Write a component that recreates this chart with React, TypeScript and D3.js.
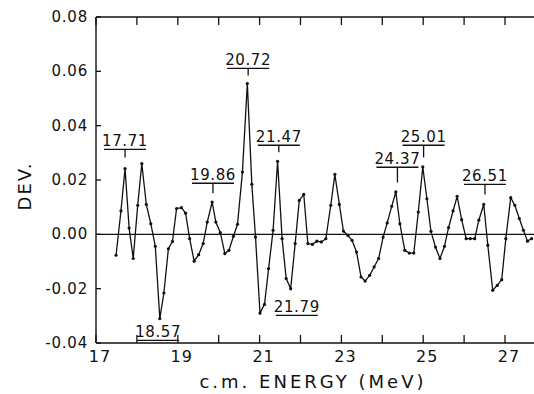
import React from "react";
import * as d3 from "d3";

const energies = [
  17.49, 17.61, 17.71, 17.81, 17.91, 18.02, 18.12, 18.23, 18.34, 18.45,
  18.56, 18.66, 18.77, 18.87, 18.97, 19.09, 19.19, 19.29, 19.40, 19.51,
  19.62, 19.72, 19.84, 19.93, 20.04, 20.15, 20.25, 20.36, 20.46, 20.58,
  20.70, 20.81, 20.90, 21.01, 21.12, 21.22, 21.33, 21.44, 21.55, 21.65,
  21.76, 21.87, 21.97, 22.08, 22.18, 22.29, 22.40, 22.51, 22.62, 22.74,
  22.84, 22.95, 23.05, 23.16, 23.26, 23.37, 23.48, 23.58, 23.69, 23.80,
  23.91, 24.02, 24.12, 24.23, 24.33, 24.43, 24.55, 24.66, 24.77, 24.88,
  24.99, 25.09, 25.19, 25.30, 25.41, 25.52, 25.62, 25.73, 25.83, 25.94,
  26.05, 26.15, 26.26, 26.36, 26.48, 26.58, 26.70, 26.81, 26.92, 27.02,
  27.14, 27.24, 27.35, 27.45, 27.55, 27.65,
];

const deviations = [
  -0.0077, 0.0086, 0.0242, 0.0023, -0.0089, 0.0107, 0.026, 0.011, 0.0039, -0.0044,
  -0.031, -0.0216, -0.0053, -0.0026, 0.0095, 0.0098, 0.0078, -0.0016, -0.0099, -0.0075,
  -0.0034, 0.0045, 0.0119, 0.0045, 0.0006, -0.0071, -0.0059, -0.0007, 0.0037, 0.0229,
  0.0555, 0.0184, -0.001, -0.029, -0.0258, -0.0126, 0.0015, 0.0269, -0.0016, -0.0163,
  -0.02, -0.0034, 0.0125, 0.0147, -0.0034, -0.0037, -0.0025, -0.0028, -0.0016, 0.0107,
  0.0221, 0.011, 0.0012, -0.0004, -0.0022, -0.0065, -0.0157, -0.0172, -0.0151, -0.012,
  -0.0089, -0.001, 0.0042, 0.0103, 0.0156, 0.0039, -0.0059, -0.0069, -0.0069, 0.0082,
  0.0248, 0.0131, 0.0011, -0.0047, -0.0089, -0.0044, 0.0025, 0.0086, 0.014, 0.0054,
  -0.0016, -0.0016, -0.0016, 0.0052, 0.011, -0.004, -0.0206, -0.0188, -0.0167, -0.0016,
  0.0135, 0.0107, 0.0058, 0.0015, -0.0025, -0.0016,
];

const xTickValues = [17, 18, 19, 20, 21, 22, 23, 24, 25, 26, 27];
const xTickLabels = ["17", "", "19", "", "21", "", "23", "", "25", "", "27"];
const yTickValues = [-0.04, -0.02, 0, 0.02, 0.04, 0.06, 0.08];
const yTickLabels = ["-0.04", "-0.02", "0.00", "0.02", "0.04", "0.06", "0.08"];

// resonance annotations: label, label-centre energy, bar level, tick end level
const annLabels = ["17.71", "19.86", "20.72", "21.47", "24.37", "25.01", "26.51", "21.79", "18.57"];
const annCentres = [17.71, 19.86, 20.72, 21.47, 24.37, 25.01, 26.51, 21.91, 18.52];
const annBarLevels = [0.0313, 0.0188, 0.0611, 0.0328, 0.0247, 0.0328, 0.0184, -0.0298, -0.0390];
const annTickEnds = [0.0283, 0.0151, 0.0585, 0.0302, 0.0191, 0.0283, 0.0147, null, null];

const W = 534;
const H = 394;
const left = 96;
const top = 17;
const bottom = 343;

export default function App() {
  const x = d3.scaleLinear().domain([17, 27]).range([left, 505]);
  const y = d3.scaleLinear().domain([-0.04, 0.08]).range([bottom, top]);
  const right = W;

  const pts = energies.map((e, i) => [x(e), y(deviations[i])] as [number, number]);
  const line = d3.line()(pts) || "";

  const font = "'DejaVu Sans', sans-serif";

  return (
    <svg width={W} height={H} style={{ position: "absolute", left: 0, top: 0, background: "#fff" }}>
      <line x1={left} y1={top} x2={right} y2={top} stroke="#111" strokeWidth={1.4} />
      <line x1={left} y1={bottom} x2={right} y2={bottom} stroke="#111" strokeWidth={1.4} />
      <line x1={left} y1={top} x2={left} y2={bottom} stroke="#111" strokeWidth={1.4} />
      <line x1={left} y1={y(0)} x2={right} y2={y(0)} stroke="#111" strokeWidth={1.2} />

      {xTickValues.map((v, i) => (
        <g key={"xt" + i}>
          <line x1={x(v)} x2={x(v)} y1={bottom} y2={bottom - 8} stroke="#111" strokeWidth={1.3} />
          <line x1={x(v)} x2={x(v)} y1={top} y2={top + 8} stroke="#111" strokeWidth={1.3} />
          {xTickLabels[i] && (
            <text x={x(v) + 4} y={362} fontSize={16} fontFamily={font} textAnchor="middle" fill="#111" letterSpacing={1}>
              {xTickLabels[i]}
            </text>
          )}
        </g>
      ))}

      {yTickValues.map((v, i) => (
        <g key={"yt" + i}>
          <line x1={left} x2={left + 5} y1={y(v)} y2={y(v)} stroke="#111" strokeWidth={1.3} />
          <text x={88} y={y(v) + 5} fontSize={15} fontFamily={font} textAnchor="end" fill="#111" letterSpacing={0.8}>
            {yTickLabels[i]}
          </text>
        </g>
      ))}

      <text x={313} y={388} fontSize={18} fontFamily={font} textAnchor="middle" fill="#111" letterSpacing={3}>
        c.m. ENERGY (MeV)
      </text>
      <text transform={`translate(31,${186}) rotate(-90)`} fontSize={18} fontFamily={font} textAnchor="middle" fill="#111" letterSpacing={2}>
        DEV.
      </text>

      <path d={line} fill="none" stroke="#111" strokeWidth={1.3} />
      {pts.map((p, i) => (
        <circle key={"p" + i} cx={p[0]} cy={p[1]} r={1.6} fill="#111" />
      ))}

      {annLabels.map((lab, i) => {
        const cx = x(annCentres[i]);
        const by = y(annBarLevels[i]);
        const half = 21;
        const te = annTickEnds[i];
        return (
          <g key={"a" + i}>
            <text x={cx} y={by - 3} fontSize={15} fontFamily={font} textAnchor="middle" fill="#111" letterSpacing={0.6}>
              {lab}
            </text>
            <line x1={cx - half} x2={cx + half} y1={by} y2={by} stroke="#111" strokeWidth={1.3} />
            {te !== null && (
              <line x1={cx} x2={cx} y1={by} y2={y(te)} stroke="#111" strokeWidth={1.3} />
            )}
          </g>
        );
      })}
    </svg>
  );
}
